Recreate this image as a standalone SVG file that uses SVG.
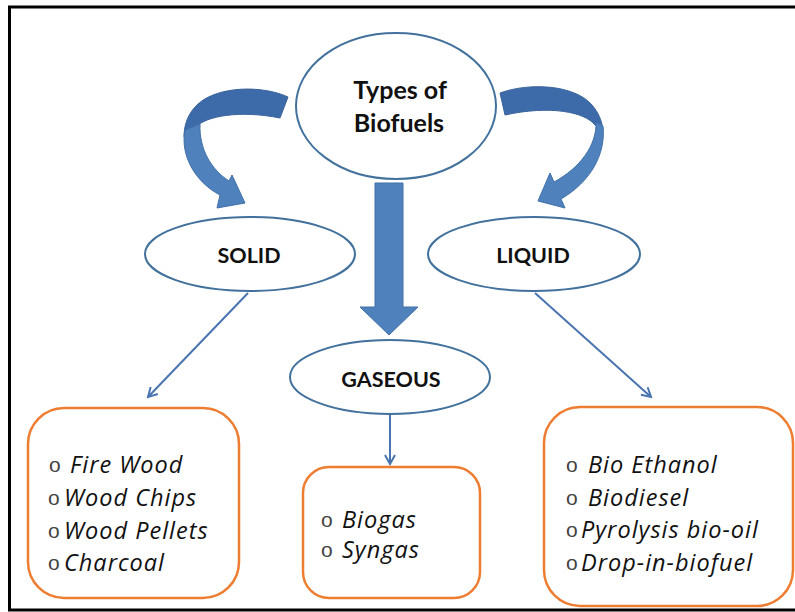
<svg xmlns="http://www.w3.org/2000/svg" width="795" height="612" viewBox="0 0 795 612">
<defs>
<style>
.ell{fill:#fff;stroke:#41719C;stroke-width:2}
.box{fill:#fff;stroke:#ED7D31;stroke-width:2.5}
.hd{font-family:Lato,"Open Sans","Liberation Sans",sans-serif;font-weight:bold;fill:#111;text-anchor:middle}
.it{font-family:"Open Sans",Lato,"Liberation Sans",sans-serif;font-style:italic;font-size:23.5px;letter-spacing:1px;fill:#111}
.bl{font-family:"Liberation Sans",Arial,sans-serif;font-style:normal;font-size:21px;fill:#444}
.thin{fill:none;stroke:#4A74B0;stroke-width:2;marker-end:url(#v)}
.dark{fill:#3D6BAA;stroke:#3A639B;stroke-width:1}
.light{fill:#4F81BD;stroke:#4170A8;stroke-width:1}
</style>
<marker id="v" viewBox="0 0 12 12" refX="10" refY="6" markerWidth="12" markerHeight="12" markerUnits="userSpaceOnUse" orient="auto">
<path d="M1,1 L10,6 L1,11" fill="none" stroke="#4A74B0" stroke-width="2"/>
</marker>
</defs>
<rect x="9.5" y="7" width="800" height="603" fill="#fff" stroke="#000" stroke-width="3"/>
<g id="connectors">
<path class="dark" d="M288,97 C262,85 218,86 198,104 C188,113 184,125 184,137 L196,127 C206,116 240,110 280,118 Z"/>
<path class="light" d="M185,130 C180,155 195,182 220,195 L217,208 L245,203 L232,175 L229,181 C212,170 199,150 200,124 Z"/>
<path class="dark" d="M500,93 C530,82 575,85 592,105 C598,112 602,120 603,131 L595,125 C585,112 550,105 505,115 Z"/>
<path class="light" d="M596,122 C597,145 580,168 554,182 L550,173 L538,201 L565,208 L561,199 C590,182 606,155 603,126 Z"/>
<path class="light" d="M375,183 L403,183 L403,307 L418,307 L389,335 L360,307 L375,307 Z"/>
<line class="thin" x1="248" y1="293" x2="148" y2="397"/>
<line class="thin" x1="535" y1="293" x2="651" y2="397"/>
<line class="thin" x1="390" y1="414" x2="390" y2="464"/>
</g>
<g id="types">
<ellipse class="ell" cx="396" cy="106" rx="100" ry="73"/>
<text class="hd" x="400" y="99" font-size="25">Types of</text>
<text class="hd" x="399" y="132" font-size="25">Biofuels</text>
</g>
<g id="solid">
<ellipse class="ell" cx="250" cy="254" rx="105" ry="37"/>
<text class="hd" x="249" y="263" font-size="21.5">SOLID</text>
</g>
<g id="liquid">
<ellipse class="ell" cx="534" cy="254" rx="106" ry="37"/>
<text class="hd" x="533" y="263" font-size="21.5">LIQUID</text>
</g>
<g id="gaseous">
<ellipse class="ell" cx="390" cy="377" rx="100" ry="37"/>
<text class="hd" x="391" y="387" font-size="21.5">GASEOUS</text>
</g>
<g id="solid-list">
<rect class="box" x="28" y="408" width="211" height="190" rx="36"/>
<text class="bl" x="49" y="472">o</text><text class="it" x="70" y="473">Fire Wood</text>
<text class="bl" x="48" y="505">o</text><text class="it" x="64" y="506">Wood Chips</text>
<text class="bl" x="48" y="538">o</text><text class="it" x="64" y="539">Wood Pellets</text>
<text class="bl" x="48" y="570">o</text><text class="it" x="64" y="571">Charcoal</text>
</g>
<g id="gaseous-list">
<rect class="box" x="303" y="467" width="177" height="131" rx="26"/>
<text class="bl" x="321" y="527">o</text><text class="it" x="342" y="528">Biogas</text>
<text class="bl" x="321" y="557">o</text><text class="it" x="342" y="558">Syngas</text>
</g>
<g id="liquid-list">
<rect class="box" x="544" y="407" width="249" height="199" rx="36"/>
<text class="bl" x="566" y="472">o</text><text class="it" x="588" y="473">Bio Ethanol</text>
<text class="bl" x="566" y="505">o</text><text class="it" x="588" y="506">Biodiesel</text>
<text class="bl" x="566" y="537">o</text><text class="it" x="581" y="538">Pyrolysis bio-oil</text>
<text class="bl" x="566" y="570">o</text><text class="it" x="581" y="571">Drop-in-biofuel</text>
</g>
</svg>
